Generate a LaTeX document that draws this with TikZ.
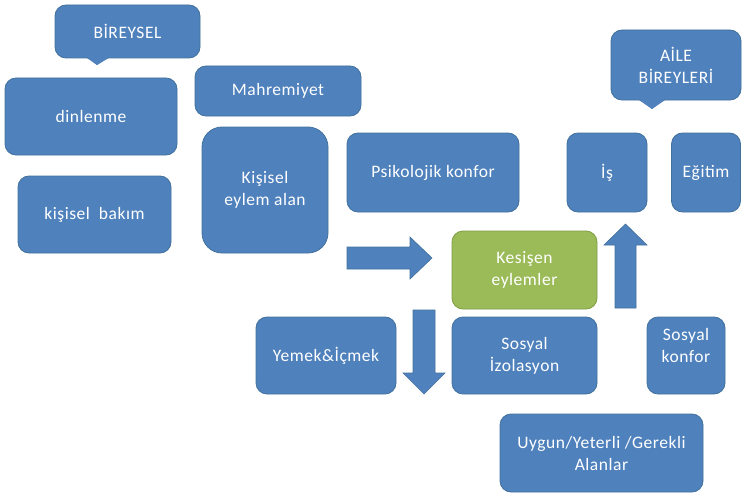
\documentclass[tikz,border=0pt]{standalone}
\usepackage{fontspec}
\setmainfont{Carlito}[LetterSpace=3]
\definecolor{boxblue}{HTML}{4F81BD}
\definecolor{boxline}{HTML}{41719C}
\definecolor{boxgreen}{HTML}{9BBB59}
\definecolor{greenline}{HTML}{7F9D43}
\begin{document}
\begin{tikzpicture}[x=1pt,y=-1pt,
  box/.style={draw=boxline, line width=0.8pt, fill=boxblue, rounded corners=11pt,
    text=white, align=center, inner sep=2pt, font=\fontsize{17.5}{22}\selectfont},
  gbox/.style={box, fill=boxgreen, draw=greenline},
  lbl/.style={text=white, align=center, inner sep=0pt, font=\fontsize{17.5}{22}\selectfont},
  barrow/.style={fill=boxblue, draw=boxline, line width=0.6pt}]
\useasboundingbox (0,0) rectangle (742,495);
% callout pointers
\coordinate (birtip) at (97,65);
\coordinate (ailetip) at (652,109);
\fill[boxblue] (84,56) -- (birtip) -- (112,56) -- cycle;
\fill[boxblue] (636,98) -- (ailetip) -- (668,98) -- cycle;
% callouts
\node[box, minimum width=145pt, minimum height=53pt] (bir) at (127.5,31.5) {BİREYSEL};
\node[box, minimum width=130pt, minimum height=70pt] (aile) at (676,65) {AİLE\\BİREYLERİ};
\fill[boxblue] (85,55) -- (birtip) -- (111,55) -- cycle;
\fill[boxblue] (637,97) -- (ailetip) -- (667,97) -- cycle;
% boxes
\node[box, minimum width=172pt, minimum height=77pt] (din) at (91,116.5) {dinlenme};
\node[box, minimum width=153pt, minimum height=77pt] (bak) at (94.5,214.5) {kişisel \ bakım};
\node[box, minimum width=166pt, minimum height=50pt] (mah) at (278,91) {Mahremiyet};
\node[box, rounded corners=20pt, minimum width=126pt, minimum height=126pt] (kis) at (265,190) {Kişisel\\eylem alan};
\node[box, minimum width=172pt, minimum height=79pt] (psi) at (433,172.5) {Psikolojik konfor};
\node[box, minimum width=80pt, minimum height=79pt] (is) at (607,172.5) {İş};
\node[box, minimum width=69pt, minimum height=79pt] (egi) at (706,172.5) {Eğitim};
\node[gbox, minimum width=145pt, minimum height=78pt] (kes) at (524.5,270) {Kesişen\\eylemler};
\node[box, minimum width=140pt, minimum height=77pt] (yem) at (326,355.5) {Yemek\&İçmek};
\node[box, minimum width=145pt, minimum height=77pt] (soi) at (524.5,355.5) {Sosyal\\İzolasyon};
\node[box, minimum width=78pt, minimum height=77pt] (sok) at (686,355.5) {};
\node[lbl] (soktxt) at (686,345) {Sosyal\\konfor};
\node[box, minimum width=203pt, minimum height=78pt] (uyg) at (601.5,453) {Uygun/Yeterli /Gerekli\\Alanlar};
% block arrows
\draw[barrow] (347,247) -- (410,247) -- (410,237) -- (432,258) -- (410,279) -- (410,269) -- (347,269) -- cycle;
\draw[barrow] (615,308) -- (615,245) -- (604,245) -- (625.5,224) -- (647,245) -- (636,245) -- (636,308) -- cycle;
\draw[barrow] (413,310) -- (435,310) -- (435,373) -- (445,373) -- (424,394) -- (403,373) -- (413,373) -- cycle;
\end{tikzpicture}
\end{document}
